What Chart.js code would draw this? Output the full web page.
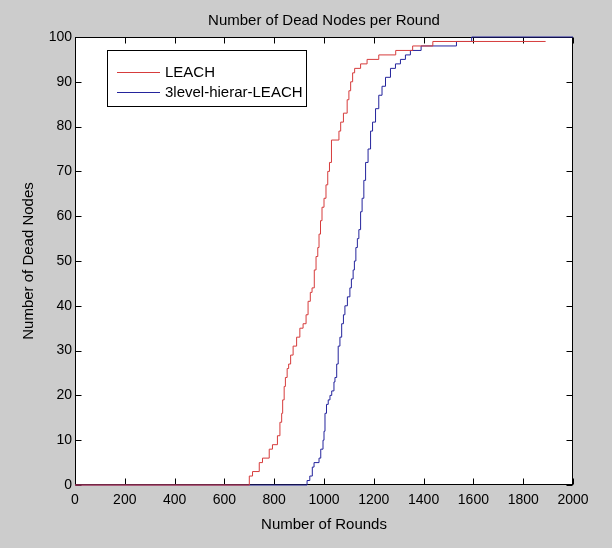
<!DOCTYPE html>
<html>
<head>
<meta charset="utf-8">
<script src="https://cdn.jsdelivr.net/npm/chart.js@4.4.1/dist/chart.umd.min.js"></script>
<style>
    html, body { margin: 0; padding: 0; background: #cccccc; }
    #wrap { width: 612px; height: 548px; }
</style>
</head>
<body>
<div id="wrap"><canvas id="deadChart" width="612" height="548"></canvas></div>
<script>
// LEACH: round at which the dead count steps to the value
var leachRounds = [0, 700, 713, 740, 753, 780, 793, 813, 823, 830, 834, 840, 845, 852, 858, 866, 876, 890, 903, 916,
    928, 936, 945, 952, 961, 968, 975, 980, 986, 992, 1000, 1008, 1015, 1022, 1030, 1060, 1067, 1078, 1093, 1100,
    1107, 1115, 1123, 1147, 1173, 1220, 1288, 1356, 1437, 1890];
var leachDead = [0, 2, 3, 5, 6, 8, 9, 11, 14, 16, 19, 22, 24, 26, 27, 29, 31, 33, 35, 36,
    38, 41, 43, 44, 48, 51, 53, 56, 59, 62, 64, 67, 70, 72, 77, 79, 81, 83, 86, 88,
    90, 92, 93, 94, 95, 96, 97, 98, 99, 99];

// 3level-hierar-LEACH
var hierRounds = [0, 932, 943, 953, 960, 980, 987, 996, 1000, 1004, 1010, 1017, 1024, 1031, 1040, 1044, 1051, 1057, 1064, 1071,
    1078, 1084, 1094, 1104, 1110, 1117, 1122, 1128, 1134, 1140, 1147, 1153, 1160, 1167, 1177, 1187, 1195, 1207, 1220, 1233,
    1247, 1267, 1287, 1307, 1327, 1347, 1390, 1532, 1593, 2000];
var hierDead = [0, 1, 2, 4, 5, 6, 8, 10, 12, 16, 18, 19, 20, 21, 23, 24, 27, 31, 33, 36,
    38, 40, 42, 44, 46, 48, 50, 53, 55, 57, 61, 64, 68, 72, 75, 79, 81, 84, 87, 89,
    91, 93, 94, 95, 96, 97, 98, 99, 100, 100];

var seriesLabels = ['LEACH', '3level-hierar-LEACH'];
var seriesColors = ['#d63c3c', '#24249c'];

var fontFamily = '"Liberation Sans", Arial, sans-serif';

function toPoints(xs, ys) {
    return xs.map(function (x, i) { return { x: x, y: ys[i] }; });
}

// Box round the plot with inward ticks on all four sides (MATLAB style)
var framePlugin = {
    id: 'frame',
    beforeDatasetsDraw: function (chart) {
        var ctx = chart.ctx;
        var a = chart.chartArea;
        var xs = chart.scales.x, ys = chart.scales.y;
        var L = Math.round(a.left) + 0.5, R = Math.round(a.right) - 0.5;
        var T = Math.round(a.top) + 0.5, B = Math.round(a.bottom) - 0.5;
        var len = 6;

        ctx.save();
        ctx.fillStyle = '#ffffff';
        ctx.fillRect(a.left, a.top, a.right - a.left, a.bottom - a.top);
        ctx.strokeStyle = '#000000';
        ctx.lineWidth = 1;
        ctx.strokeRect(L, T, R - L, B - T);

        ctx.beginPath();
        xs.ticks.forEach(function (t) {
            var px = Math.round(xs.getPixelForValue(t.value)) + 0.5;
            ctx.moveTo(px, B); ctx.lineTo(px, B - len);
            ctx.moveTo(px, T); ctx.lineTo(px, T + len);
        });
        ys.ticks.forEach(function (t) {
            var py = Math.round(ys.getPixelForValue(t.value)) + 0.5;
            ctx.moveTo(L, py); ctx.lineTo(L + len, py);
            ctx.moveTo(R, py); ctx.lineTo(R - len, py);
        });
        ctx.stroke();
        ctx.restore();
    }
};

// Legend drawn inside the axes, upper left
var insideLegend = {
    id: 'insideLegend',
    afterDatasetsDraw: function (chart) {
        var ctx = chart.ctx;
        var a = chart.chartArea;
        var x0 = a.left + 32, y0 = a.top + 13, w = 199, h = 56;

        ctx.save();
        ctx.fillStyle = '#ffffff';
        ctx.fillRect(x0, y0, w, h);
        ctx.strokeStyle = '#000000';
        ctx.lineWidth = 1;
        ctx.strokeRect(Math.round(x0) + 0.5, Math.round(y0) + 0.5, w, h);

        ctx.font = '15px ' + fontFamily;
        ctx.textAlign = 'left';
        ctx.textBaseline = 'middle';
        chart.data.datasets.forEach(function (ds, i) {
            var yy = Math.round(y0 + 22 + i * 20) + 0.5;
            ctx.strokeStyle = ds.borderColor;
            ctx.beginPath();
            ctx.moveTo(x0 + 10, yy);
            ctx.lineTo(x0 + 53, yy);
            ctx.stroke();
            ctx.fillStyle = '#000000';
            ctx.fillText(ds.label, x0 + 58, yy);
        });
        ctx.restore();
    }
};

var deadChart = new Chart(document.getElementById('deadChart'), {
    type: 'line',
    data: {
        datasets: [{
            label: seriesLabels[0],
            data: toPoints(leachRounds, leachDead),
            borderColor: seriesColors[0],
            borderWidth: 1,
            pointRadius: 0,
            stepped: true,
            fill: false,
            clip: 3
        }, {
            label: seriesLabels[1],
            data: toPoints(hierRounds, hierDead),
            borderColor: seriesColors[1],
            borderWidth: 1,
            pointRadius: 0,
            stepped: true,
            fill: false,
            clip: 3
        }]
    },
    options: {
        responsive: false,
        animation: false,
        layout: { padding: { top: 0, right: 39, left: 0, bottom: 0 } },
        plugins: {
            legend: { display: false },
            tooltip: { enabled: false },
            title: {
                display: true,
                fullSize: false,
                text: 'Number of Dead Nodes per Round',
                color: '#000000',
                font: { family: fontFamily, size: 15, weight: 'normal', lineHeight: 1.2 },
                padding: { top: 12, bottom: 7 }
            }
        },
        scales: {
            x: {
                type: 'linear',
                min: 0,
                max: 2000,
                grid: { display: false, drawTicks: false },
                border: { display: false },
                ticks: {
                    stepSize: 200,
                    padding: 7,
                    maxRotation: 0,
                    color: '#000000',
                    font: { family: fontFamily, size: 14 },
                    callback: function (value) { return String(value); }
                },
                title: {
                    display: true,
                    text: 'Number of Rounds',
                    color: '#000000',
                    font: { family: fontFamily, size: 15, lineHeight: 1.2 },
                    padding: { top: 0, bottom: 14 }
                },
                afterFit: function (scale) { scale.height = 63; }
            },
            y: {
                min: 0,
                max: 100,
                grid: { display: false, drawTicks: false },
                border: { display: false },
                ticks: {
                    stepSize: 10,
                    padding: 3,
                    color: '#000000',
                    font: { family: fontFamily, size: 14 }
                },
                title: {
                    display: true,
                    text: 'Number of Dead Nodes',
                    color: '#000000',
                    font: { family: fontFamily, size: 15, lineHeight: 1.2 },
                    padding: { top: 20, bottom: 0 }
                },
                afterFit: function (scale) { scale.width = 75; }
            }
        }
    },
    plugins: [framePlugin, insideLegend]
});
</script>
</body>
</html>
